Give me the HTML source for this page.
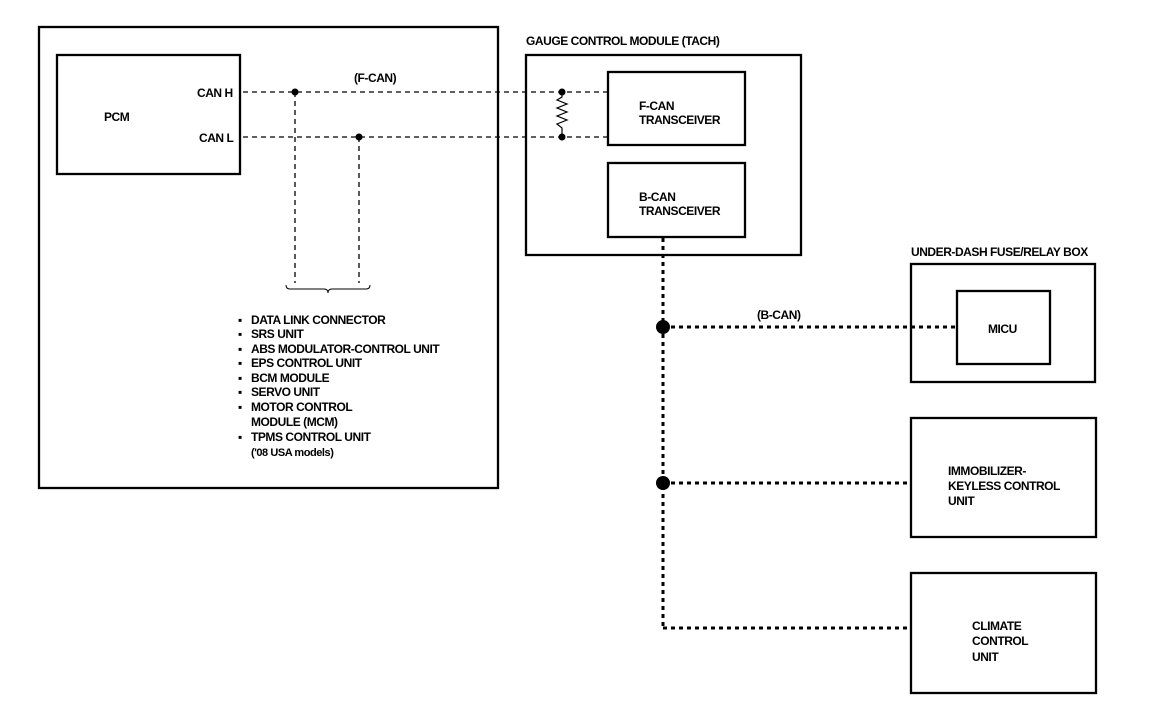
<!DOCTYPE html>
<html><head><meta charset="utf-8"><style>
html,body{margin:0;padding:0;background:#fff;}
svg text{font-family:"Liberation Sans",sans-serif;font-weight:bold;font-size:12px;fill:#000;letter-spacing:-0.45px;}
</style></head><body>
<svg width="1152" height="722" viewBox="0 0 1152 722" xmlns="http://www.w3.org/2000/svg">
<g fill="none" stroke="#000" stroke-width="2.3">
<rect x="39" y="27" width="459" height="461"/>
<rect x="57" y="55" width="183" height="119"/>
<rect x="526" y="55" width="275" height="200"/>
<rect x="608" y="72" width="137" height="73"/>
<rect x="608" y="163" width="137" height="74"/>
<rect x="911" y="264" width="184" height="118"/>
<rect x="957" y="291" width="93" height="73"/>
<rect x="911" y="418" width="185" height="119"/>
<rect x="911" y="573" width="185" height="120"/>
</g>
<g fill="none" stroke="#000" stroke-width="1.3" stroke-dasharray="5,4">
<line x1="243" y1="92" x2="608" y2="92"/>
<line x1="243" y1="137" x2="608" y2="137"/>
<line x1="295" y1="92" x2="295" y2="283"/>
<line x1="359" y1="137" x2="359" y2="283"/>
</g>
<path d="M286,285 q0,4 4,4 h34 q4,0 4,4 q0,-4 4,-4 h34 q4,0 4,-4" fill="none" stroke="#000" stroke-width="1"/>
<polyline points="562,92 562,97 557,100 567,104 557,108 567,112 557,116 567,120 557,124 562,128 562,137" fill="none" stroke="#000" stroke-width="1.2"/>
<g fill="#000">
<circle cx="295" cy="92" r="3.5"/><circle cx="359" cy="137" r="3.5"/>
<circle cx="562" cy="92" r="3.5"/><circle cx="562" cy="137" r="3.5"/>
<circle cx="663" cy="327" r="7"/><circle cx="663" cy="483" r="7"/>
</g>
<g fill="none" stroke="#000" stroke-width="3" stroke-dasharray="4,4">
<line x1="663" y1="238" x2="663" y2="628"/>
<line x1="663" y1="327" x2="957" y2="327"/>
<line x1="663" y1="483" x2="911" y2="483"/>
<line x1="663" y1="628" x2="911" y2="628"/>
</g>
<text x="104" y="121">PCM</text>
<text x="197" y="97">CAN H</text>
<text x="199" y="142">CAN L</text>
<text x="354" y="82">(F-CAN)</text>
<text x="526" y="45">GAUGE CONTROL MODULE (TACH)</text>
<text x="639" y="110">F-CAN</text>
<text x="639" y="124">TRANSCEIVER</text>
<text x="639" y="201">B-CAN</text>
<text x="639" y="215">TRANSCEIVER</text>
<text x="757" y="319">(B-CAN)</text>
<text x="911" y="256">UNDER-DASH FUSE/RELAY BOX</text>
<text x="988" y="333">MICU</text>
<text x="948" y="475">IMMOBILIZER-</text>
<text x="948" y="490">KEYLESS CONTROL</text>
<text x="948" y="505">UNIT</text>
<text x="972" y="630">CLIMATE</text>
<text x="972" y="645">CONTROL</text>
<text x="972" y="661">UNIT</text>
<g>
<text x="238" y="324">▪</text><text x="251" y="324">DATA LINK CONNECTOR</text>
<text x="238" y="338">▪</text><text x="251" y="338">SRS UNIT</text>
<text x="238" y="353">▪</text><text x="251" y="353">ABS MODULATOR-CONTROL UNIT</text>
<text x="238" y="367">▪</text><text x="251" y="367">EPS CONTROL UNIT</text>
<text x="238" y="382">▪</text><text x="251" y="382">BCM MODULE</text>
<text x="238" y="396">▪</text><text x="251" y="396">SERVO UNIT</text>
<text x="238" y="411">▪</text><text x="251" y="411">MOTOR CONTROL</text>
<text x="251" y="426">MODULE (MCM)</text>
<text x="238" y="441">▪</text><text x="251" y="441">TPMS CONTROL UNIT</text>
<text x="251" y="456" style="font-size:11px">('08 USA models)</text>
</g>
</svg>
</body></html>
